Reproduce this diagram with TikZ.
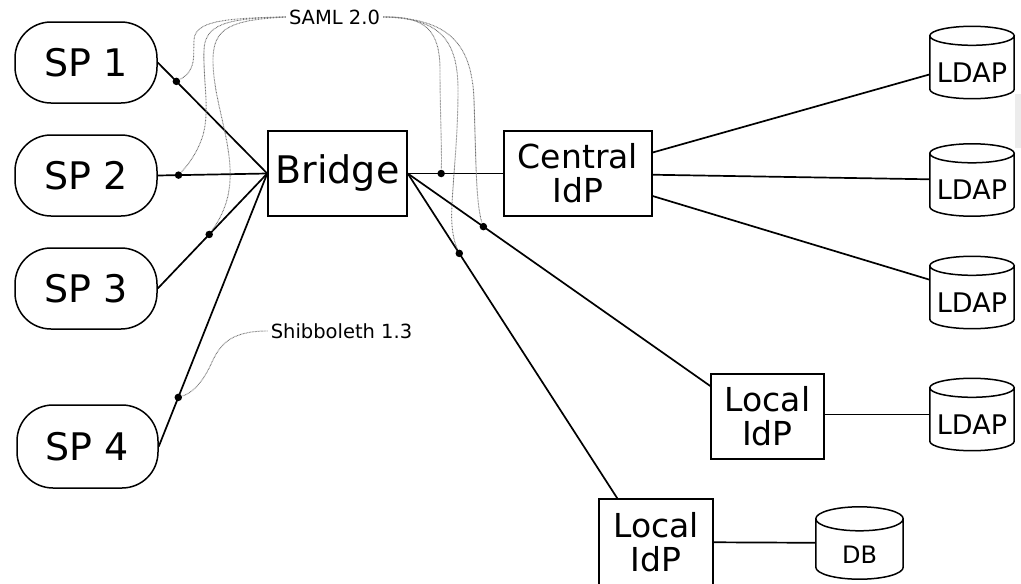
\documentclass[tikz,border=0pt]{standalone}
\usepackage{fontspec}
\setmainfont{DejaVu Sans}
\usetikzlibrary{calc}

% outline of a storage drum around a named node: #1 node, #2 end-ellipse radius
\newcommand\drumshape[2]{%
  \draw[line width=1.5pt]
    let \p1=(#1.north west), \p2=(#1.north east), \n1={(\x2-\x1)/2} in
    ($(#1.north west)+(0,-#2)$) -- ($(#1.south west)+(0,#2)$)
    arc[start angle=180, end angle=360, x radius=\n1, y radius=#2pt]
    -- ($(#1.north east)+(0,-#2)$)
    ($(#1.north)+(0,-#2)$) ellipse[x radius=\n1, y radius=#2pt];%
}

\begin{document}
\begin{tikzpicture}[x=1pt,y=1pt,
  sp/.style={draw, line width=1.5pt, rounded corners=36pt, minimum width=142pt,
    minimum height=81pt, inner sep=0pt, font=\fontsize{38}{40}\selectfont},
  box/.style={draw, line width=1.5pt, inner sep=0pt, align=center,
    font=\fontsize{33}{34}\selectfont},
  store/.style={inner sep=0pt, minimum width=84pt, minimum height=72pt,
    font=\fontsize{27}{28}\selectfont, text height=39.7pt, text depth=0pt},
  link/.style={line width=1.7pt},
  dot/.style={circle, fill=black, inner sep=0pt, minimum size=7.5pt},
  note/.style={draw=black!55, line width=0.9pt, dash pattern=on 0.8pt off 0.7pt},
  tag/.style={inner sep=3pt, font=\fontsize{19.5}{20}\selectfont}
]
\useasboundingbox (0,0) rectangle (1021,-584);
\fill[gray!15] (1015,-94) rectangle (1021,-148);

% service providers
\node[sp] (sp1) at (86,-62.5) {SP 1};
\node[sp] (sp2) at (86,-175.5) {SP 2};
\node[sp] (sp3) at (86,-288.5) {SP 3};
\node[sp, minimum width=141pt, minimum height=83pt] (sp4) at (87.5,-446.5) {SP 4};

% bridge and identity providers
\node[box, minimum width=139pt, minimum height=85pt, font=\fontsize{38}{40}\selectfont]
  (bridge) at (337.5,-173.5) {Bridge};
\node[box, minimum width=148pt, minimum height=85pt] (central) at (578,-173.5) {Central\\IdP};
\node[box, minimum width=113pt, minimum height=85pt] (local1) at (767.5,-416.5) {Local\\IdP};
\node[box, minimum width=114pt, minimum height=86pt] (local2) at (656,-542) {Local\\IdP};

% directories
\node[store] (ldap1) at (972,-62.5) {LDAP};
\node[store] (ldap2) at (972,-180) {LDAP};
\node[store] (ldap3) at (972,-292.5) {LDAP};
\node[store] (ldap4) at (972,-414.5) {LDAP};
\node[store, minimum width=87pt, font=\fontsize{24}{25}\selectfont, text height=41.5pt]
  (db) at (859.5,-543) {DB};
\drumshape{ldap1}{9.5}
\drumshape{ldap2}{9.5}
\drumshape{ldap3}{9.5}
\drumshape{ldap4}{9.5}
\drumshape{db}{12}

% connections
\draw[link] (sp1.east) -- node[dot, pos=0.17] (d1) {} (bridge.west);
\draw[link] (sp2.east) -- node[dot, pos=0.19] (d2) {} (bridge.west);
\draw[link] (sp3.east) -- node[dot, pos=0.47] (d3) {} (bridge.west);
\draw[link] (sp4.east) -- node[dot, pos=0.18] (d4) {} (bridge.west);
\draw[link] (bridge.east) -- node[dot, pos=0.35] (d5) {} (central.west);
\draw[link] (bridge.east) -- node[dot, pos=0.25] (d6) {} ($(local1.west)+(0,30.5)$);
\draw[link] (bridge.east) -- node[dot, pos=0.246] (d7) {} ($(local2.north west)+(19,0)$);
\draw[link] (central) -- (ldap1);
\draw[link] (central) -- (ldap2);
\draw[link] (central) -- (ldap3);
\draw[link] (local1.east |- ldap4) -- (ldap4);
\draw[link] (local2) -- (db);

% protocol annotations
\node[tag] (saml) at (334.5,-17) {SAML 2.0};
\node[tag] (shib) at (341.5,-331) {Shibboleth 1.3};

\draw[note] (saml.west) .. controls (220,-18) and (195,-22) .. (194,-40)
  .. controls (193,-55) and (197,-70) .. (d1);
\draw[note] (saml.west) .. controls (225,-18) and (205,-25) .. (204,-50)
  .. controls (203,-80) and (210,-110) .. (203,-135)
  .. controls (197,-155) and (185,-168) .. (d2);
\draw[note] (saml.west) .. controls (230,-20) and (213,-28) .. (213,-60)
  .. controls (213,-100) and (232,-140) .. (230,-180)
  .. controls (229,-205) and (218,-222) .. (d3);
\draw[note] (saml.east) .. controls (425,-16) and (440,-30) .. (440,-70)
  .. controls (440,-110) and (442,-150) .. (d5);
\draw[note] (saml.east) .. controls (440,-18) and (458,-40) .. (458,-90)
  .. controls (458,-150) and (450,-200) .. (452,-225)
  .. controls (453,-240) and (457,-248) .. (d7);
\draw[note] (saml.east) .. controls (450,-18) and (472,-45) .. (474,-100)
  .. controls (476,-160) and (476,-205) .. (d6);
\draw[note] (shib.west) .. controls (230,-331) and (220,-345) .. (212,-362)
  .. controls (205,-378) and (195,-392) .. (d4);
\end{tikzpicture}
\end{document}
